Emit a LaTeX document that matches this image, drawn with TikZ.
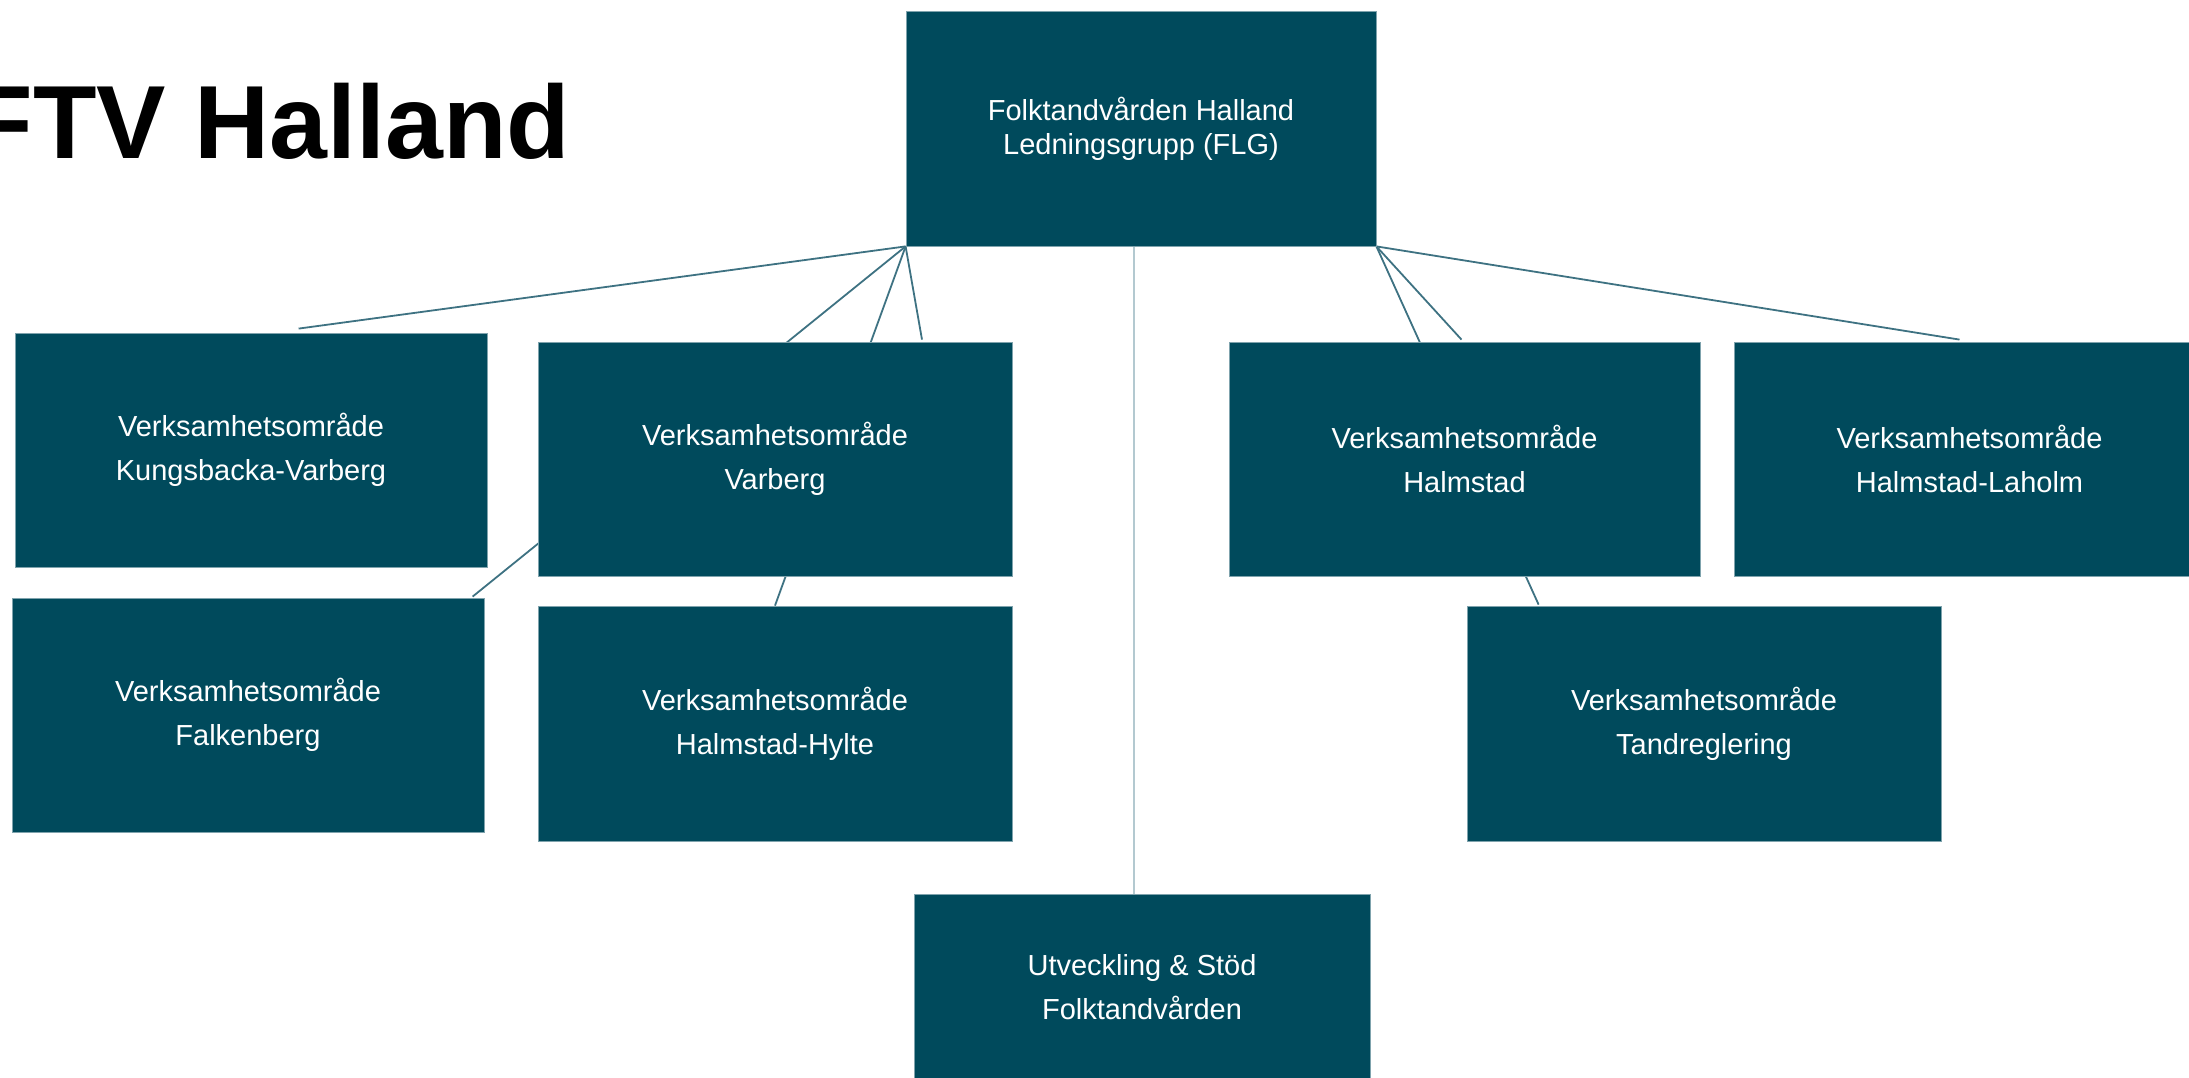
\documentclass[tikz,border=0pt]{standalone}
\usepackage{fontspec}
\setmainfont{Liberation Sans}
\usetikzlibrary{calc,backgrounds}
\definecolor{boxfill}{HTML}{004A5C}
\definecolor{boxedge}{HTML}{7FA3AD}
\definecolor{conn}{HTML}{3E7282}
\definecolor{vline}{HTML}{B3C9D0}
\begin{document}
\begin{tikzpicture}[x=1pt,y=-1pt,
  orgbox/.style={fill=boxfill, draw=boxedge, line width=0.8pt, text=white, align=center,
    inner sep=0pt, font=\fontsize{29}{44}\selectfont},
  link/.style={draw=conn, line width=1.8pt},
  vlink/.style={draw=vline, line width=2pt},
  ]
\useasboundingbox (0,0) rectangle (2189,1078);
\node[anchor=base west, font=\fontsize{104}{120}\selectfont\bfseries] (title) at (-34,159) {FTV Halland};

\node[orgbox, minimum width=470, minimum height=235, font=\fontsize{29}{34}\selectfont] (top) at (1141,128.5) {Folktandvården Halland\\Ledningsgrupp (FLG)};
\node[orgbox, minimum width=472, minimum height=234] (kv) at (251,450) {Verksamhetsområde\\Kungsbacka-Varberg};
\node[orgbox, minimum width=474, minimum height=234] (varb) at (775,459) {Verksamhetsområde\\Varberg};
\node[orgbox, minimum width=471, minimum height=234] (halm) at (1464.5,459) {Verksamhetsområde\\Halmstad};
\node[orgbox, minimum width=471, minimum height=234] (hl) at (1969.5,459) {Verksamhetsområde\\Halmstad-Laholm};
\node[orgbox, minimum width=472, minimum height=234] (falk) at (248,715) {Verksamhetsområde\\Falkenberg};
\node[orgbox, minimum width=474, minimum height=235] (hh) at (775,723.5) {Verksamhetsområde\\Halmstad-Hylte};
\node[orgbox, minimum width=474, minimum height=235] (tand) at (1704,723.5) {Verksamhetsområde\\Tandreglering};
\node[orgbox, minimum width=456, minimum height=186] (utv) at (1142,987) {Utveckling \& Stöd\\Folktandvården};

\begin{scope}[on background layer]
  \draw[link] (top.south west) -- ([xshift=284pt,yshift=4pt]kv.north west);
  \draw[link] (top.south west) -- ([xshift=461pt,yshift=1pt]falk.north west);
  \draw[link] (top.south west) -- (hh.north);
  \draw[link] (top.south west) -- ([xshift=147pt,yshift=2pt]varb.north);
  \draw[link] (top.south east) -- ([xshift=72pt,yshift=1pt]tand.north west);
  \draw[link] (top.south east) -- ([xshift=-3pt,yshift=2pt]halm.north);
  \draw[link] (top.south east) -- ([xshift=-10pt,yshift=2pt]hl.north);
  \draw[vlink] ([xshift=-7pt]top.south) -- ([xshift=-7pt]top.south |- utv.north);
\end{scope}
\end{tikzpicture}
\end{document}
